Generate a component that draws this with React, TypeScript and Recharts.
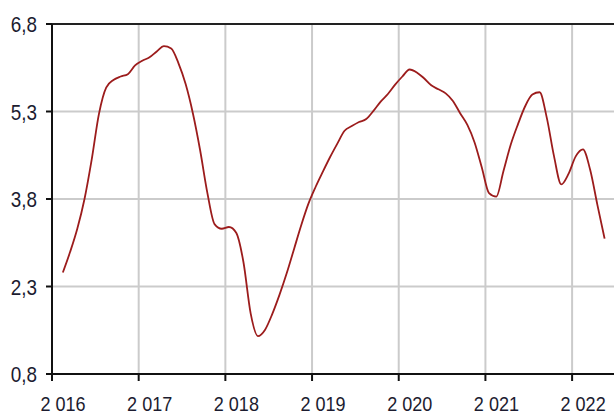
import { LineChart, Line, XAxis, YAxis, CartesianGrid, ReferenceLine } from "recharts";

// monthly values, Feb 2016 .. May 2022
const startYear = 2016;
const startMonth = 2;
const values = [
  2.54, 2.89, 3.29, 3.8, 4.48, 5.26, 5.71, 5.84, 5.9, 5.94, 6.09,
  6.17, 6.23, 6.33, 6.42, 6.38, 6.13, 5.77, 5.27, 4.64, 3.91, 3.37, 3.29,
  3.32, 3.22, 2.72, 1.84, 1.45, 1.56, 1.83, 2.16, 2.53, 2.94, 3.35, 3.72,
  4.01, 4.27, 4.52, 4.75, 4.97, 5.05, 5.12, 5.17, 5.31, 5.47, 5.6, 5.76,
  5.9, 6.02, 5.97, 5.87, 5.75, 5.68, 5.61, 5.48, 5.27, 5.07, 4.77, 4.34,
  3.9, 3.84, 4.28, 4.73, 5.08, 5.39, 5.59, 5.63, 5.19, 4.53, 4.05, 4.23,
  4.53, 4.65, 4.3, 3.7, 3.12,
];

const yearLabels = ["2 016", "2 017", "2 018", "2 019", "2 020", "2 021", "2 022"];
const yTicks = [0.8, 2.3, 3.8, 5.3, 6.8];

// x = months since Jan 2016, point placed mid-month
const data = values.map((v, i) => {
  const idx = startMonth - 1 + i;
  const y = startYear + Math.floor(idx / 12);
  const m = (idx % 12) + 1;
  return { month: `${y}-${String(m).padStart(2, "0")}`, x: idx + 0.5, value: v };
});

const xTicks = yearLabels.map((_, i) => i * 12);

const FONT = "'Liberation Sans', Arial, sans-serif";
const TEXT = "#1c1c30";

// narrow-looking labels: squeeze horizontally
const XTick = (props: any) => {
  const { x, y, payload } = props;
  return (
    <text
      transform={`translate(${x + 11}, ${y + 16}) scale(0.86, 1)`}
      textAnchor="middle"
      fontFamily={FONT}
      fontSize={21}
      fill={TEXT}
    >
      {yearLabels[Math.round(payload.value / 12)]}
    </text>
  );
};

const YTick = (props: any) => {
  const { x, y, payload } = props;
  return (
    <text
      transform={`translate(${x}, ${y + 8}) scale(0.86, 1)`}
      textAnchor="end"
      fontFamily={FONT}
      fontSize={22}
      fill={TEXT}
    >
      {payload.value.toFixed(1).replace(".", ",")}
    </text>
  );
};

export default function App() {
  return (
    <div style={{ width: 614, height: 416 }}>
      <style>{`body{margin:0}`}</style>
      <LineChart width={614} height={416} data={data} margin={{ top: 24, right: 0, left: 0, bottom: 0 }}>
        <CartesianGrid stroke="#cbcbcb" strokeWidth={2} horizontalValues={yTicks} verticalValues={xTicks} />
        <XAxis
          dataKey="x"
          type="number"
          domain={[0, 77.8]}
          ticks={xTicks}
          height={42}
          tickSize={7}
          tickMargin={14}
          axisLine={{ stroke: "#111", strokeWidth: 2 }}
          tickLine={{ stroke: "#111", strokeWidth: 2 }}
          tick={<XTick />}
          interval={0}
        />
        <YAxis
          type="number"
          domain={[0.8, 6.8]}
          ticks={yTicks}
          width={52}
          tickSize={6}
          tickMargin={9}
          axisLine={{ stroke: "#111", strokeWidth: 2 }}
          tickLine={{ stroke: "#111", strokeWidth: 2 }}
          tick={<YTick />}
          interval={0}
        />
        <ReferenceLine y={6.8} stroke="#222" strokeWidth={2} />
        <Line
          type="monotone"
          dataKey="value"
          stroke="#9c1c1c"
          strokeWidth={1.8}
          dot={false}
          isAnimationActive={false}
        />
      </LineChart>
    </div>
  );
}
